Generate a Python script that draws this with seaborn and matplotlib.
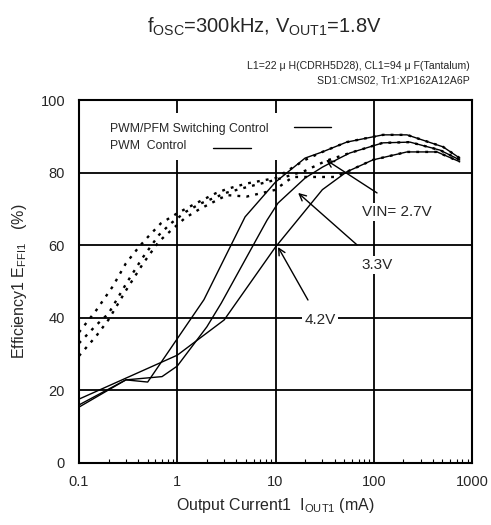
import numpy as np
import pandas as pd
import seaborn as sns
import matplotlib.pyplot as plt
from matplotlib.patches import Rectangle

# --- data (current in mA, efficiency in %) ---
i_pwm_27 = [0.1, 0.3, 0.5, 1.87, 4.9, 10, 20, 30, 53, 124, 218, 507, 750]
e_pwm_27 = [15.4, 22.9, 22.3, 45, 67.8, 77.4, 84, 85.7, 88.4, 90.4, 90.4, 87.1, 84]

i_pwm_33 = [0.1, 0.3, 0.7, 1, 2, 2.8, 8.2, 10.6, 20, 30, 45, 57, 124, 234, 472, 750]
e_pwm_33 = [16.0, 22.9, 23.8, 26.7, 37.5, 44, 66.9, 71.6, 78.5, 81.5, 84, 85.4, 88.2, 88.4, 86.2, 83.5]

i_pwm_42 = [0.1, 1, 3, 10, 30, 53, 98, 218, 440, 750]
e_pwm_42 = [17.6, 29.7, 39.4, 59.5, 75.3, 80.2, 83.5, 85.7, 85.7, 83]

i_pfm_27 = [0.1, 0.15, 0.22, 0.3, 0.41, 0.5, 0.68, 1, 1.54, 2.46, 3.2, 5.1, 10, 20, 30, 53, 124, 218, 507, 750]
e_pfm_27 = [36, 42.1, 48.6, 55, 59.6, 62.2, 66, 68.8, 71.5, 74.3, 75.5, 77, 78.5, 83.5, 85.7, 88.4, 90.4, 90.4, 87.1, 84]

i_pfm_33 = [0.1, 0.15, 0.2, 0.31, 0.44, 0.65, 0.86, 1.22, 1.73, 3.2, 5.1, 10, 20, 33, 57, 124, 234, 472, 750]
e_pfm_33 = [33, 38, 41.2, 49.9, 56.4, 62.8, 66, 69.2, 71.5, 74.5, 76, 78, 80.5, 83.3, 85.4, 88.2, 88.4, 86.2, 83.5]

i_pfm_42 = [0.1, 0.15, 0.2, 0.3, 0.45, 0.65, 0.9, 1.2, 1.7, 3.2, 5.1, 9.8, 15, 40, 53, 98, 218, 440, 750]
e_pfm_42 = [29.5, 35, 39.5, 47.5, 55, 61, 64.5, 67.5, 70, 73.8, 73.4, 75.2, 78.8, 78.8, 80.2, 83.5, 85.7, 85.7, 83]

x_ticks = [0.1, 1, 10, 100, 1000]
x_tick_labels = ["0.1", "1", "10", "100", "1000"]
y_ticks = [0, 20, 40, 60, 80, 100]

series = {
    ("2.7V", "PWM"): (i_pwm_27, e_pwm_27),
    ("3.3V", "PWM"): (i_pwm_33, e_pwm_33),
    ("4.2V", "PWM"): (i_pwm_42, e_pwm_42),
    ("2.7V", "PWM/PFM"): (i_pfm_27, e_pfm_27),
    ("3.3V", "PWM/PFM"): (i_pfm_33, e_pfm_33),
    ("4.2V", "PWM/PFM"): (i_pfm_42, e_pfm_42),
}
frames = []
for (vin, mode), (cur, eff) in series.items():
    frames.append(pd.DataFrame({"current": cur, "eff": eff, "vin": vin, "mode": mode}))
df = pd.concat(frames, ignore_index=True)

sns.set_style("white")
plt.rcParams["font.family"] = ["Liberation Sans", "DejaVu Sans"]
plt.rcParams["mathtext.fontset"] = "custom"
plt.rcParams["mathtext.rm"] = "Liberation Sans"
plt.rcParams["mathtext.it"] = "Liberation Sans:italic"
plt.rcParams["mathtext.bf"] = "Liberation Sans:bold"

fig = plt.figure(figsize=(4.91, 5.25), dpi=100)
ax = fig.add_axes([0.1609, 0.1181, 0.8004, 0.6914])

for (vin, mode), sub in df.groupby(["vin", "mode"]):
    if mode == "PWM":
        sns.lineplot(data=sub, x="current", y="eff", ax=ax, color="black",
                     lw=1.0, estimator=None, zorder=2)
    else:
        sns.lineplot(data=sub, x="current", y="eff", ax=ax, color="black",
                     lw=1.7, linestyle=(0, (1.2, 2.6)), estimator=None, zorder=2)

ax.set_xscale("log")
ax.set_xlim(0.1, 1000)
ax.set_ylim(0, 100)
ax.set_xticks(x_ticks, labels=x_tick_labels)
ax.set_yticks(y_ticks)
ax.set_axisbelow(True)
ax.grid(True, which="major", color="black", lw=1.3)
ax.tick_params(axis="x", which="major", length=0, pad=9, labelsize=10.5)
ax.tick_params(axis="x", which="minor", direction="in", length=3, width=0.8,
               bottom=True, color="black")
ax.tick_params(axis="y", which="major", length=0, pad=10, labelsize=10.5)
for sp in ax.spines.values():
    sp.set_color("black")
    sp.set_linewidth(1.5)

ax.set_xlabel(r"Output Current1  I$_{\mathrm{OUT1}}$ (mA)", fontsize=11.5, labelpad=5)
ax.set_ylabel(r"Efficiency1 E$_{\mathrm{FFI1}}$   (%)", fontsize=11.5, labelpad=8)

# legend block (text with sample lines, white box behind)
ax.add_patch(Rectangle((0.053, 0.835), 0.624, 0.129, transform=ax.transAxes,
                       facecolor="white", edgecolor="none", zorder=1))
ax.text(0.080, 0.919, "PWM/PFM Switching Control", transform=ax.transAxes,
        fontsize=8.8, va="center", ha="left", zorder=3)
ax.text(0.080, 0.872, "PWM  Control", transform=ax.transAxes,
        fontsize=8.8, va="center", ha="left", zorder=3)
ax.plot([0.547, 0.641], [0.925, 0.925], transform=ax.transAxes, color="black", lw=1)
ax.plot([0.341, 0.438], [0.868, 0.868], transform=ax.transAxes, color="black", lw=1)

# VIN annotations
arrow = dict(arrowstyle="->", color="black", lw=1, mutation_scale=12, shrinkA=0, shrinkB=0)
ax.annotate("", xy=(32.7, 83.5), xytext=(108, 74.4), arrowprops=arrow, zorder=3)
ax.annotate("", xy=(17, 74.4), xytext=(67.5, 60.1), arrowprops=arrow, zorder=3)
ax.annotate("", xy=(10.6, 59.5), xytext=(21.4, 44.9), arrowprops=arrow, zorder=3)
box = dict(facecolor="white", edgecolor="none", pad=1.5)
ax.text(172, 69.1, "VIN= 2.7V", fontsize=11, ha="center", va="center", bbox=box, zorder=4)
ax.text(108, 54.5, "3.3V", fontsize=11, ha="center", va="center", bbox=box, zorder=4)
ax.text(28.4, 39.4, "4.2V", fontsize=11, ha="center", va="center", bbox=box, zorder=4)

fig.text(0.538, 0.948, r"f$_{\mathrm{OSC}}$=300kHz, V$_{\mathrm{OUT1}}$=1.8V",
         fontsize=14.5, ha="center", va="center")
fig.text(0.957, 0.874, "L1=22 μ H(CDRH5D28), CL1=94 μ F(Tantalum)",
         fontsize=7.6, ha="right", va="center")
fig.text(0.957, 0.846, "SD1:CMS02, Tr1:XP162A12A6P",
         fontsize=7.6, ha="right", va="center")

fig.savefig("out.png", dpi=100)
